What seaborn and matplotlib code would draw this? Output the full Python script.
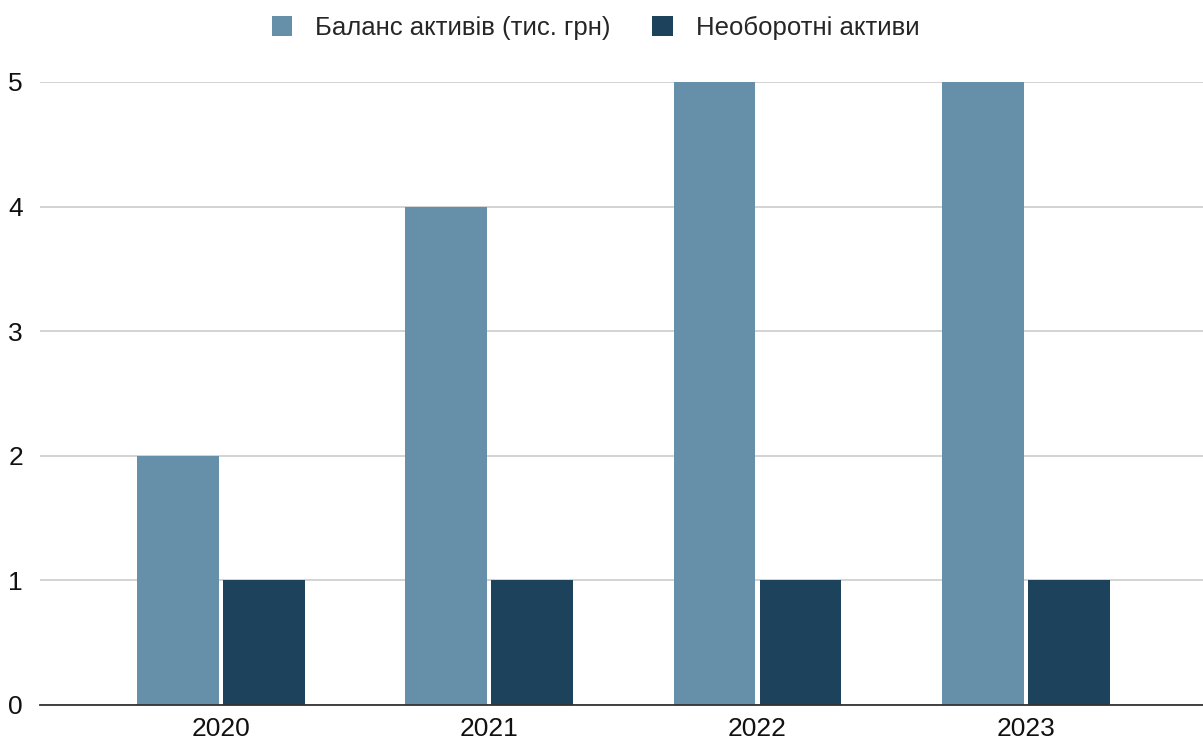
import matplotlib
matplotlib.use('Agg')
import matplotlib.pyplot as plt
import pandas as pd
import seaborn as sns

# --- DATA ---
years = ["2020", "2021", "2022", "2023"]
balance = [2, 4, 5, 5]
noncurrent = [1, 1, 1, 1]
series_names = ["Баланс активів (тис. грн)", "Необоротні активи"]
colors = ["#668FAA", "#1D425B"]

df = pd.DataFrame({
    "year": years * 2,
    "value": balance + noncurrent,
    "series": [series_names[0]] * len(years) + [series_names[1]] * len(years),
})

sns.set_theme(style="white")
plt.rcParams['font.family'] = ['Liberation Sans', 'DejaVu Sans']

fig = plt.figure(figsize=(12.03, 7.42), dpi=100)
ax = fig.add_axes([0.033, 0.05, 0.967, 0.8395])

sns.barplot(data=df, x="year", y="value", hue="series", palette=colors,
            width=0.64, gap=0.05, ax=ax, saturation=1, legend=True,
            edgecolor="none")

ax.set_ylim(0, 5)
ax.set_xlim(-0.675, 3.66)
ax.set_yticks(range(0, 6))
ax.yaxis.grid(True, color="#cccccc", linewidth=1.2)
ax.set_axisbelow(True)
for s in ["top", "right", "left"]:
    ax.spines[s].set_visible(False)
ax.spines["bottom"].set_color("#333333")
ax.spines["bottom"].set_linewidth(1.3)
ax.tick_params(axis="both", length=0, labelsize=19, colors="#111111")
ax.tick_params(axis="y", pad=12)
ax.tick_params(axis="x", pad=9)
ax.set_xlabel("")
ax.set_ylabel("")

handles, labels = ax.get_legend_handles_labels()
ax.legend(handles, labels, loc="center", bbox_to_anchor=(0.495, 0.962),
          bbox_transform=fig.transFigure, ncol=2, frameon=False,
          fontsize=18.5, handlelength=0.8, handleheight=0.8,
          columnspacing=1.6, handletextpad=0.9)

fig.savefig("out.png", dpi=100)
